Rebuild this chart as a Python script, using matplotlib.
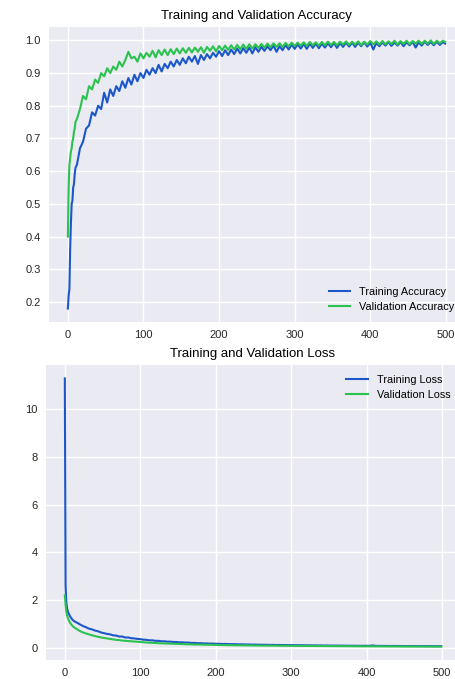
import matplotlib
matplotlib.use("Agg")
import matplotlib.pyplot as plt

plt.rcParams['font.family'] = ['Liberation Sans', 'DejaVu Sans']

epochs = list(range(0, 11)) + list(range(12, 500, 4)) + [499]

train_acc = [
    0.18, 0.22, 0.24, 0.36, 0.44, 0.50, 0.51, 0.55, 0.56, 0.59, 0.61,
    0.62, 0.67, 0.69, 0.73, 0.74, 0.78, 0.77, 0.80, 0.79, 0.84,
    0.81, 0.85, 0.83, 0.86, 0.845, 0.875, 0.855, 0.885, 0.865, 0.895,
    0.875, 0.90, 0.885, 0.91, 0.895, 0.915, 0.90, 0.925, 0.905, 0.928,
    0.915, 0.935, 0.92, 0.94, 0.925, 0.945, 0.93, 0.95, 0.935, 0.952,
    0.928, 0.955, 0.94, 0.958, 0.945, 0.962, 0.95, 0.967, 0.952, 0.97,
    0.955, 0.972, 0.958, 0.975, 0.96, 0.976, 0.962, 0.978, 0.96, 0.979,
    0.965, 0.98, 0.968, 0.982, 0.97, 0.984, 0.965, 0.982, 0.97, 0.986,
    0.972, 0.987, 0.974, 0.988, 0.975, 0.989, 0.974, 0.99, 0.977, 0.99,
    0.976, 0.99, 0.978, 0.991, 0.979, 0.992, 0.977, 0.992, 0.98, 0.993,
    0.981, 0.993, 0.98, 0.993, 0.982, 0.994, 0.981, 0.993, 0.972, 0.992,
    0.982, 0.994, 0.984, 0.995, 0.983, 0.994, 0.984, 0.995, 0.982, 0.994,
    0.985, 0.996, 0.978, 0.994, 0.984, 0.996, 0.986, 0.995, 0.985, 0.996,
    0.986, 0.995, 0.99,
]

val_acc = [
    0.40, 0.55, 0.62, 0.64, 0.66, 0.67, 0.69, 0.70, 0.72, 0.73, 0.75,
    0.76, 0.79, 0.83, 0.82, 0.86, 0.85, 0.88, 0.87, 0.90, 0.89,
    0.915, 0.90, 0.92, 0.91, 0.935, 0.92, 0.94, 0.965, 0.945, 0.95,
    0.935, 0.96, 0.945, 0.962, 0.95, 0.968, 0.948, 0.97, 0.955, 0.972,
    0.955, 0.973, 0.958, 0.975, 0.96, 0.976, 0.962, 0.977, 0.963, 0.978,
    0.965, 0.979, 0.962, 0.98, 0.968, 0.982, 0.966, 0.983, 0.97, 0.984,
    0.971, 0.985, 0.972, 0.986, 0.973, 0.987, 0.974, 0.988, 0.975, 0.988,
    0.977, 0.989, 0.978, 0.99, 0.979, 0.991, 0.98, 0.991, 0.98, 0.992,
    0.982, 0.993, 0.983, 0.993, 0.984, 0.994, 0.983, 0.995, 0.985, 0.994,
    0.984, 0.995, 0.985, 0.996, 0.986, 0.995, 0.985, 0.996, 0.987, 0.997,
    0.986, 0.996, 0.987, 0.997, 0.985, 0.996, 0.987, 0.998, 0.988, 0.997,
    0.987, 0.998, 0.988, 0.997, 0.989, 0.999, 0.987, 0.998, 0.989, 0.999,
    0.988, 0.998, 0.99, 0.999, 0.989, 0.999, 0.99, 1.0, 0.989, 0.999,
    0.991, 0.999, 0.995,
]

train_loss = [
    11.3, 2.6, 1.9, 1.65, 1.52, 1.44, 1.37, 1.31, 1.27, 1.22, 1.18,
    1.12, 1.05, 0.98, 0.91, 0.86, 0.8, 0.77, 0.72, 0.69, 0.64,
    0.61, 0.58, 0.56, 0.52, 0.51, 0.47, 0.47, 0.43, 0.43, 0.4,
    0.39, 0.37, 0.36, 0.34, 0.33, 0.31, 0.31, 0.29, 0.29, 0.27,
    0.27, 0.255, 0.255, 0.24, 0.24, 0.225, 0.225, 0.215, 0.215, 0.2,
    0.203, 0.19, 0.19, 0.18, 0.181, 0.172, 0.173, 0.165, 0.166, 0.158,
    0.158, 0.152, 0.151, 0.146, 0.146, 0.14, 0.141, 0.135, 0.136, 0.13,
    0.131, 0.126, 0.127, 0.122, 0.123, 0.118, 0.119, 0.114, 0.116, 0.111,
    0.112, 0.108, 0.109, 0.105, 0.106, 0.102, 0.103, 0.099, 0.1, 0.096,
    0.098, 0.094, 0.095, 0.091, 0.093, 0.089, 0.09, 0.087, 0.088, 0.085,
    0.086, 0.083, 0.084, 0.081, 0.082, 0.079, 0.081, 0.078, 0.079, 0.095,
    0.078, 0.075, 0.076, 0.074, 0.075, 0.072, 0.074, 0.071, 0.072, 0.07,
    0.071, 0.069, 0.07, 0.067, 0.069, 0.066, 0.068, 0.065, 0.066, 0.064,
    0.066, 0.063, 0.063,
]

val_loss = [
    2.2, 1.8, 1.5, 1.35, 1.25, 1.17, 1.1, 1.05, 1.0, 0.96, 0.92,
    0.86, 0.78, 0.7, 0.64, 0.6, 0.56, 0.52, 0.49, 0.46, 0.43,
    0.41, 0.39, 0.37, 0.35, 0.33, 0.32, 0.3, 0.29, 0.28, 0.27,
    0.26, 0.25, 0.24, 0.23, 0.22, 0.21, 0.205, 0.2, 0.19, 0.185,
    0.18, 0.175, 0.17, 0.165, 0.16, 0.155, 0.15, 0.147, 0.143, 0.14,
    0.137, 0.134, 0.131, 0.128, 0.125, 0.122, 0.12, 0.117, 0.115, 0.113,
    0.11, 0.108, 0.106, 0.104, 0.102, 0.1, 0.098, 0.097, 0.095, 0.094,
    0.092, 0.091, 0.089, 0.088, 0.087, 0.085, 0.084, 0.083, 0.082, 0.081,
    0.08, 0.079, 0.078, 0.077, 0.076, 0.075, 0.074, 0.073, 0.072, 0.071,
    0.07, 0.069, 0.069, 0.068, 0.067, 0.066, 0.066, 0.065, 0.064, 0.064,
    0.063, 0.062, 0.062, 0.061, 0.061, 0.06, 0.06, 0.059, 0.058, 0.058,
    0.057, 0.057, 0.056, 0.056, 0.055, 0.055, 0.054, 0.054, 0.053, 0.053,
    0.052, 0.052, 0.052, 0.051, 0.051, 0.05, 0.05, 0.05, 0.049, 0.049,
    0.049, 0.048, 0.048,
]

acc_ticks = [0.2, 0.3, 0.4, 0.5, 0.6, 0.7, 0.8, 0.9, 1.0]
loss_ticks = [0, 2, 4, 6, 8, 10]
epoch_ticks = [0, 100, 200, 300, 400, 500]

blue = '#1c57c9'
green = '#2cc24f'


def style(ax):
    ax.set_facecolor('#EAEAF2')
    ax.grid(True, color='white', linewidth=1)
    ax.set_axisbelow(True)
    for s in ax.spines.values():
        s.set_visible(False)
    ax.tick_params(length=0, labelsize=8, labelcolor='#262626', pad=6)


fig = plt.figure(figsize=(4.56, 6.79), dpi=100)

ax1 = fig.add_axes([0.1075, 0.5258, 0.910, 0.4345])
style(ax1)
ax1.plot(epochs, train_acc, color=blue, lw=1.5, label='Training Accuracy')
ax1.plot(epochs, val_acc, color=green, lw=1.5, label='Validation Accuracy')
ax1.legend(loc='lower right', frameon=False, fontsize=7.8)
ax1.set_title('Training and Validation Accuracy', fontsize=9.5)
ax1.set_xticks(epoch_ticks)
ax1.set_yticks(acc_ticks)

ax2 = fig.add_axes([0.1009, 0.028, 0.908, 0.4345])
style(ax2)
ax2.plot(epochs, train_loss, color=blue, lw=1.5, label='Training Loss')
ax2.plot(epochs, val_loss, color=green, lw=1.5, label='Validation Loss')
ax2.legend(loc='upper right', frameon=False, fontsize=7.8)
ax2.set_title('Training and Validation Loss', fontsize=9.5)
ax2.set_xticks(epoch_ticks)
ax2.set_yticks(loss_ticks)

fig.savefig('out.png', dpi=100)
